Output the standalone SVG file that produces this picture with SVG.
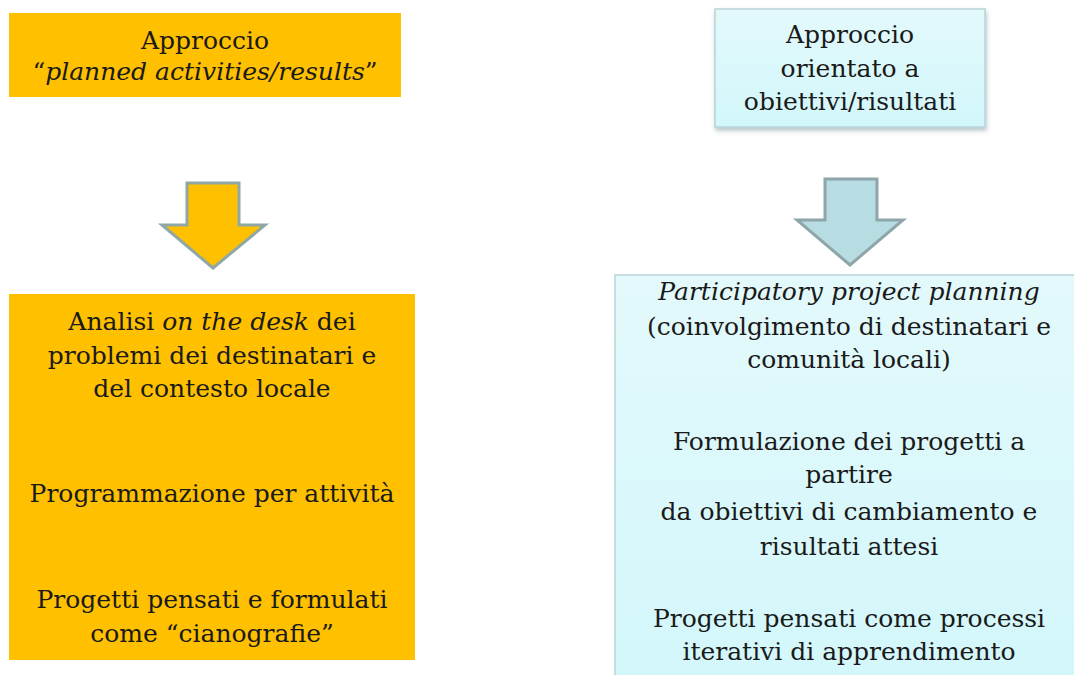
<svg xmlns="http://www.w3.org/2000/svg" width="1074" height="675" viewBox="0 0 1074 675">
<defs>
<linearGradient id="cyan" x1="0" y1="0" x2="0" y2="1">
<stop offset="0" stop-color="#e3f9fb"/>
<stop offset="1" stop-color="#d2f7fb"/>
</linearGradient>
<filter id="sh" x="-10%" y="-10%" width="120%" height="130%">
<feDropShadow dx="1" dy="3" stdDeviation="2" flood-color="#6f8f95" flood-opacity="0.5"/>
</filter>
</defs>
<style>
text{font-family:"DejaVu Serif","Liberation Serif",serif;font-size:25px;fill:#1a1a1a;text-anchor:middle}
.it{font-style:italic}
.orange{fill:#ffc000}
.cyanbox{fill:url(#cyan);stroke:#b9d3d7;stroke-width:1.5}
.arrowO{fill:#ffc000;stroke:#8fa7a6;stroke-width:3;stroke-linejoin:miter}
.arrowC{fill:#b7dde3;stroke:#8ea6a9;stroke-width:3;stroke-linejoin:miter}
</style>
<rect width="1074" height="675" fill="#ffffff"/>
<g id="top-left">
<rect class="orange" x="9" y="13" width="392" height="84"/>
<text x="205" y="49">Approccio</text>
<text x="205" y="80">“<tspan class="it">planned activities/results</tspan>”</text>
</g>
<g id="top-right">
<rect class="cyanbox" x="715" y="9" width="270" height="118" filter="url(#sh)"/>
<text x="850" y="43">Approccio</text>
<text x="850" y="77">orientato  a</text>
<text x="850" y="110">obiettivi/risultati</text>
</g>
<g id="connectors">
<path class="arrowO" d="M187,183 L239,183 L239,225 L265,225 L213,268 L162,225 L187,225 Z"/>
<path class="arrowC" d="M825,179 L877,179 L877,220 L903,220 L850,265 L797,220 L825,220 Z"/>
</g>
<g id="bottom-left">
<rect class="orange" x="9" y="294" width="406" height="366"/>
<text x="212" y="330">Analisi <tspan class="it">on the desk</tspan> dei</text>
<text x="212" y="364">problemi dei destinatari e</text>
<text x="212" y="397">del contesto locale</text>
<text x="212" y="502">Programmazione per attività</text>
<text x="212" y="608">Progetti pensati e formulati</text>
<text x="212" y="642">come “cianografie”</text>
</g>
<g id="bottom-right">
<rect class="cyanbox" x="615" y="275" width="480" height="420"/>
<text class="it" x="849" y="300">Participatory project planning</text>
<text x="849" y="335">(coinvolgimento  di destinatari e</text>
<text x="849" y="368">comunità locali)</text>
<text x="849" y="450">Formulazione  dei progetti a</text>
<text x="849" y="483">partire</text>
<text x="849" y="520">da obiettivi  di cambiamento e</text>
<text x="849" y="555">risultati attesi</text>
<text x="849" y="627">Progetti pensati come processi</text>
<text x="849" y="660">iterativi di apprendimento</text>
</g>
</svg>
